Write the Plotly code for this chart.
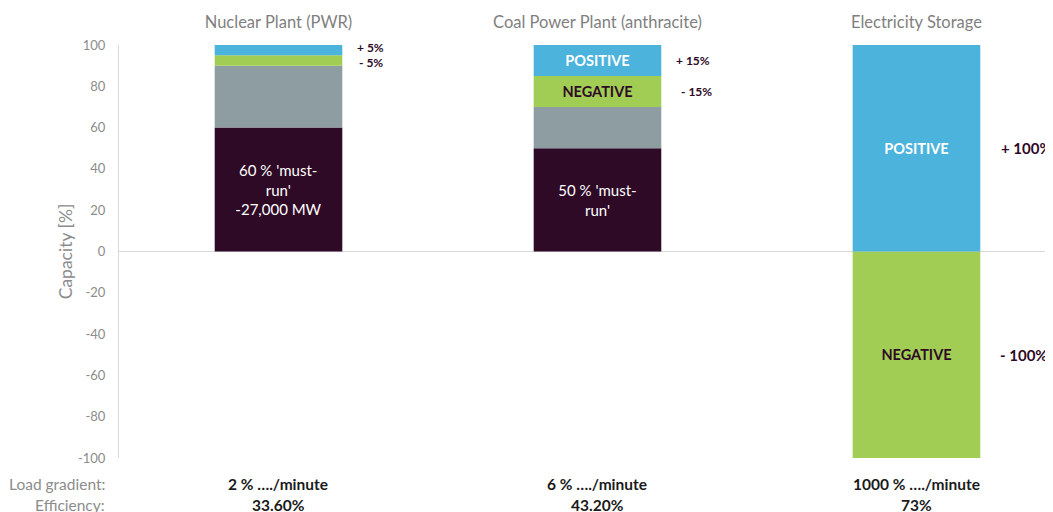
import plotly.graph_objects as go

categories = ["Nuclear Plant (PWR)", "Coal Power Plant (anthracite)", "Electricity Storage"]
must_run = [60, 50, 0]
flexible = [30, 20, 0]
negative = [5, 15, -100]
positive = [5, 15, 100]

must_run_text = ["60 % 'must-<br>run'<br>-27,000 MW", "50 % 'must-<br>run'", ""]
negative_text = ["", "<b>NEGATIVE</b>", "<b>NEGATIVE</b>"]
positive_text = ["", "<b>POSITIVE</b>", "<b>POSITIVE</b>"]
pos_side = ["+ 5%", "+ 15%", "+ 100%"]
neg_side = ["- 5%", "- 15%", "- 100%"]
load_gradient = ["2 % …./minute", "6 % …./minute", "1000 % …./minute"]
efficiency = ["33.60%", "43.20%", "73%"]
y_tick_values = [-100, -80, -60, -40, -20, 0, 20, 40, 60, 80, 100]
y_tick_labels = ["-100", "-80", "-60", "-40", "-20", "0", "20", "40", "60", "80", "100"]

DARK = "#2e0a26"
GRAY = "#8e9da2"
GREEN = "#a1cd55"
BLUE = "#4bb3dc"
LABEL_GRAY = "#8c8c8c"
FONT = "Lato"

fig = go.Figure()
fig.add_bar(x=categories, y=must_run, marker_color=DARK, text=must_run_text,
            textposition="inside", insidetextanchor="middle", textangle=0,
            textfont=dict(color="white", size=15, family=FONT), name="must-run")
fig.add_bar(x=categories, y=flexible, marker_color=GRAY, name="flexible")
fig.add_bar(x=categories, y=negative, marker_color=GREEN, text=negative_text,
            textposition="inside", insidetextanchor="middle", textangle=0,
            textfont=dict(color=DARK, size=14.5, family=FONT), name="negative")
fig.add_bar(x=categories, y=positive, marker_color=BLUE, text=positive_text,
            textposition="inside", insidetextanchor="middle", textangle=0,
            textfont=dict(color="white", size=14.5, family=FONT), name="positive")
fig.update_traces(marker_line_width=0, hoverinfo="skip")

annotations = []
pos_dx = [0.24, 0.24, 0.26]
neg_dx = [0.245, 0.255, 0.255]
side_size = [12, 12, 15]
for i, c in enumerate(categories):
    base = must_run[i] + flexible[i]
    if negative[i] >= 0:
        neg_mid = base + negative[i] / 2
        pos_mid = base + negative[i] + positive[i] / 2
    else:
        neg_mid = negative[i] / 2
        pos_mid = positive[i] / 2
    if i == 0:
        pos_mid += 1.5
        neg_mid -= 1
    annotations.append(dict(x=i + pos_dx[i], y=pos_mid, xref="x", yref="y", text="<b>" + pos_side[i] + "</b>",
                            showarrow=False, xanchor="left", yanchor="middle",
                            font=dict(color=DARK, size=side_size[i], family=FONT)))
    annotations.append(dict(x=i + neg_dx[i], y=neg_mid, xref="x", yref="y", text="<b>" + neg_side[i] + "</b>",
                            showarrow=False, xanchor="left", yanchor="middle",
                            font=dict(color=DARK, size=side_size[i], family=FONT)))
    annotations.append(dict(x=i, y=-0.063, xref="x", yref="paper", text="<b>" + load_gradient[i] + "</b>",
                            showarrow=False, xanchor="center", yanchor="middle",
                            font=dict(color="#1a1a1a", size=15.5, family=FONT)))
    annotations.append(dict(x=i, y=-0.113, xref="x", yref="paper", text="<b>" + efficiency[i] + "</b>",
                            showarrow=False, xanchor="center", yanchor="middle",
                            font=dict(color="#1a1a1a", size=15.5, family=FONT)))

annotations.append(dict(x=-0.013, y=-0.063, xref="paper", yref="paper", text="Load gradient:", showarrow=False,
                        xanchor="right", yanchor="middle", font=dict(color=LABEL_GRAY, size=15.5, family=FONT)))
annotations.append(dict(x=-0.013, y=-0.113, xref="paper", yref="paper", text="Efficiency:", showarrow=False,
                        xanchor="right", yanchor="middle", font=dict(color=LABEL_GRAY, size=15.5, family=FONT)))

# The page body has an 8px margin, so the figure is laid out 8px up/left of the target picture.
fig.update_layout(
    width=1053, height=512,
    margin=dict(l=111, r=8, t=37, b=62),
    barmode="relative", bargap=0.6,
    showlegend=False,
    plot_bgcolor="white", paper_bgcolor="white",
    font=dict(family=FONT),
    annotations=annotations,
    xaxis=dict(side="top", range=[-0.5, 2.428], showgrid=False, zeroline=False, showline=False,
               automargin=False, ticks="outside", ticklen=9, tickcolor="rgba(0,0,0,0)",
               tickfont=dict(color="#7f7f7f", size=16.5, family=FONT)),
    yaxis=dict(range=[-100, 100], tickmode="array", tickvals=y_tick_values, ticktext=y_tick_labels,
               showgrid=False, automargin=False,
               zeroline=True, zerolinecolor="#d9d9d9", zerolinewidth=1,
               showline=True, linecolor="#d9d9d9", linewidth=1,
               ticks="outside", ticklen=10, tickcolor="rgba(0,0,0,0)",
               tickfont=dict(color=LABEL_GRAY, size=13, family=FONT),
               title=dict(text="Capacity [%]", font=dict(color=LABEL_GRAY, size=17.5, family=FONT), standoff=0)),
)

fig.write_html("out.html")
